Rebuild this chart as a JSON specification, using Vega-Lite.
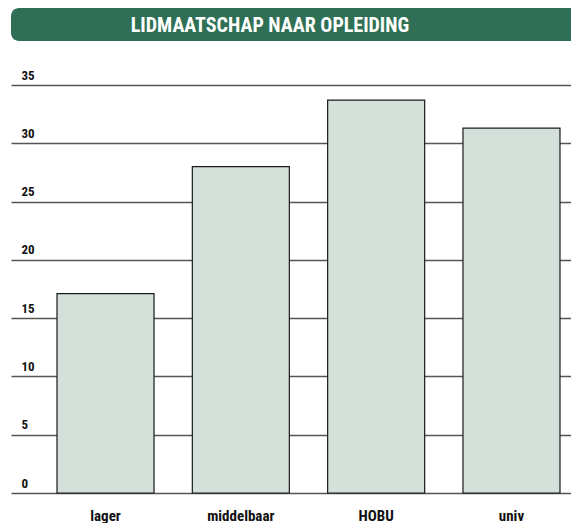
{
  "$schema": "https://vega.github.io/schema/vega-lite/v6.json",
  "padding": {"left": 11, "top": 8, "right": 0, "bottom": 0},
  "spacing": 28,
  "config": {"view": {"stroke": null}, "font": "Roboto Condensed, DejaVu Sans Condensed, Roboto, sans-serif"},
  "vconcat": [
    {
      "width": 600,
      "height": 33,
      "view": {"fill": "#2e6f55", "cornerRadius": 8, "stroke": null},
      "data": {"values": [{"title": "LIDMAATSCHAP NAAR OPLEIDING"}]},
      "mark": {"type": "text", "color": "white", "fontWeight": "bold", "fontSize": 20, "font": "Roboto Condensed, DejaVu Sans Condensed, Roboto, sans-serif", "dx": -41, "dy": 1, "baseline": "middle"},
      "encoding": {"text": {"field": "title"}}
    },
    {
      "width": 595,
      "height": 408,
      "data": {"values": [
        {"opleiding": "lager", "pct": 17.1},
        {"opleiding": "middelbaar", "pct": 28.0},
        {"opleiding": "HOBU", "pct": 33.7},
        {"opleiding": "univ", "pct": 31.3}
      ]},
      "mark": {"type": "bar", "fill": "#d4e1da", "stroke": "#1a1a1a", "strokeWidth": 1.2},
      "encoding": {
        "x": {"field": "opleiding", "type": "nominal", "sort": null,
          "scale": {"paddingInner": 0.283, "paddingOuter": 0.34},
          "axis": {"title": null, "labelAngle": 0, "labelFontWeight": "bold", "labelFontSize": 15, "labelColor": "#111", "labelPadding": 15, "ticks": false, "domain": false}},
        "y": {"field": "pct", "type": "quantitative",
          "scale": {"domain": [0, 35], "nice": false},
          "axis": {"title": null, "values": [0, 5, 10, 15, 20, 25, 30, 35], "grid": true, "gridColor": "#555", "gridWidth": 1.3, "gridOpacity": 1, "ticks": false, "domain": false, "labelAlign": "left", "labelPadding": -10, "labelBaseline": "alphabetic", "labelOffset": -6, "labelFontWeight": "bold", "labelFontSize": 13, "labelColor": "#111", "labelFlush": false}}
      }
    }
  ]
}
